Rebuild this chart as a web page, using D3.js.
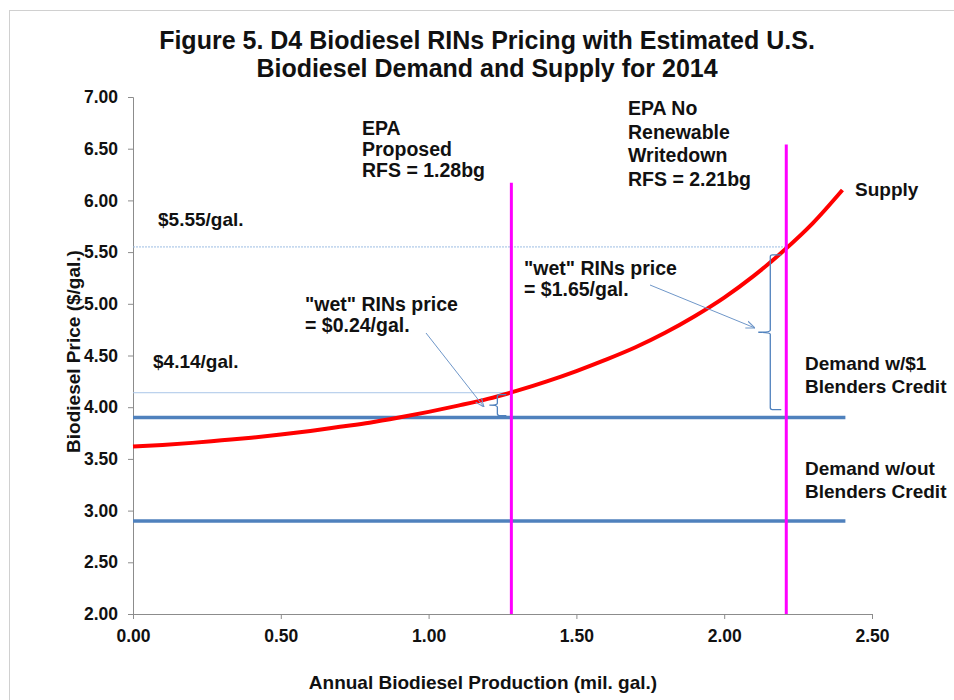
<!DOCTYPE html>
<html>
<head>
<meta charset="utf-8">
<script src="https://cdn.jsdelivr.net/npm/d3@7"></script>
<style>
  body { margin: 0; background: #fff; }
  svg text { font-family: "Liberation Sans", Arial, sans-serif; font-weight: bold; fill: #111; }
</style>
</head>
<body>
<div class="chartWrapper"></div>
<script>
const width = 954, height = 700;

// supply curve
const supplyQty   = [0, 0.1, 0.2, 0.3, 0.4, 0.5, 0.6, 0.7, 0.8, 0.9, 1.0, 1.1, 1.2, 1.3, 1.4, 1.5, 1.6, 1.7, 1.8, 1.9, 2.0, 2.1, 2.2, 2.3, 2.4];
const supplyPrice = [3.62, 3.635, 3.655, 3.68, 3.705, 3.735, 3.77, 3.81, 3.85, 3.90, 3.955, 4.015, 4.08, 4.16, 4.25, 4.35, 4.46, 4.58, 4.72, 4.88, 5.06, 5.27, 5.51, 5.78, 6.10];

const demandPrices = [3.90, 2.90];   // w/$1 credit, w/out credit
const demandEnd = 2.41;
const rfsLevels = [1.28, 2.21];
const rfsTops = [6.17, 6.54];
const rinPrices = [4.14, 5.55];

const xTicks = [0, 0.5, 1.0, 1.5, 2.0, 2.5];
const yTicks = [2, 2.5, 3, 3.5, 4, 4.5, 5, 5.5, 6, 6.5, 7];

const svg = d3.select(".chartWrapper").append("svg")
  .attr("width", width)
  .attr("height", height);

// outer chart border
svg.append("rect")
  .attr("x", 9.5).attr("y", 10.5)
  .attr("width", 960).attr("height", 720)
  .attr("fill", "none")
  .attr("stroke", "#d0d0d0");

const x = d3.scaleLinear().domain([0, 2.5]).range([133, 872]);
const y = d3.scaleLinear().domain([2, 7]).range([614, 97]);

// title
svg.append("text").attr("x", 487).attr("y", 49).attr("text-anchor", "middle")
  .style("font-size", "25px").text("Figure 5. D4 Biodiesel RINs Pricing with Estimated U.S.");
svg.append("text").attr("x", 487).attr("y", 77).attr("text-anchor", "middle")
  .style("font-size", "25px").text("Biodiesel Demand and Supply for 2014");

// axes
const xAxis = d3.axisBottom(x).tickValues(xTicks).tickFormat(d3.format(".2f")).tickSizeOuter(0).tickSize(5).tickPadding(5);
const yAxis = d3.axisLeft(y).tickValues(yTicks).tickFormat(d3.format(".2f")).tickSizeOuter(0).tickSize(5).tickPadding(10);

const gx = svg.append("g").attr("transform", `translate(0,${y(2)})`).call(xAxis);
const gy = svg.append("g").attr("transform", `translate(${x(0)},0)`).call(yAxis);
[gx, gy].forEach(g => {
  g.selectAll("path, line").attr("stroke", "#8c8c8c");
  g.selectAll("text").style("font-size", "17.5px").style("font-family", "'Liberation Sans', Arial, sans-serif").attr("fill", "#111");
});
gx.selectAll("text").attr("dy", "1em");

svg.append("text")
  .attr("transform", `translate(80,${(y(2) + y(7)) / 2 - 4}) rotate(-90)`)
  .attr("text-anchor", "middle")
  .style("font-size", "19px")
  .text("Biodiesel Price ($/gal.)");
svg.append("text").attr("x", 483).attr("y", 689).attr("text-anchor", "middle")
  .style("font-size", "19px").text("Annual Biodiesel Production (mil. gal.)");

// reference lines at RIN-implied prices
svg.append("line")
  .attr("x1", x(0)).attr("x2", x(rfsLevels[1]))
  .attr("y1", y(rinPrices[1])).attr("y2", y(rinPrices[1]))
  .attr("stroke", "#9dbde3").attr("stroke-width", 1).attr("stroke-dasharray", "2,1");
svg.append("line")
  .attr("x1", x(0)).attr("x2", x(rfsLevels[0]))
  .attr("y1", y(rinPrices[0])).attr("y2", y(rinPrices[0]))
  .attr("stroke", "#a9c6e8").attr("stroke-width", 1);

// demand lines
demandPrices.forEach(p => {
  svg.append("line")
    .attr("x1", x(0)).attr("x2", x(demandEnd))
    .attr("y1", y(p)).attr("y2", y(p))
    .attr("stroke", "#4f81bd").attr("stroke-width", 3.5);
});

// supply curve
const supplyData = supplyQty.map((q, i) => [q, supplyPrice[i]]);
const line = d3.line().x(d => x(d[0])).y(d => y(d[1])).curve(d3.curveMonotoneX);
svg.append("path").datum(supplyData)
  .attr("d", line)
  .attr("fill", "none")
  .attr("stroke", "#ff0000")
  .attr("stroke-width", 4);

// RFS verticals
rfsLevels.forEach((q, i) => {
  svg.append("line")
    .attr("x1", x(q)).attr("x2", x(q))
    .attr("y1", y(rfsTops[i])).attr("y2", y(2))
    .attr("stroke", "#ff00ff").attr("stroke-width", 3);
});

// braces showing RIN price gap
function brace(xPos, yTop, yBot, prong, hook) {
  const yMid = (yTop + yBot) / 2;
  const p = d3.path();
  p.moveTo(xPos + hook, yTop);
  p.lineTo(xPos + 2, yTop);
  p.quadraticCurveTo(xPos, yTop, xPos, yTop + 2);
  p.lineTo(xPos, yMid - 2);
  p.quadraticCurveTo(xPos, yMid, xPos - prong, yMid);
  p.quadraticCurveTo(xPos, yMid, xPos, yMid + 2);
  p.lineTo(xPos, yBot - 2);
  p.quadraticCurveTo(xPos, yBot, xPos + 2, yBot);
  p.lineTo(xPos + hook, yBot);
  svg.append("path").attr("d", p.toString())
    .attr("fill", "none").attr("stroke", "#4f81bd").attr("stroke-width", 1.3);
}
brace(x(rfsLevels[0]) - 14, y(rinPrices[0]) + 2, y(demandPrices[0]) - 2, 8, 9);
brace(x(rfsLevels[1]) - 16, y(rinPrices[1]) + 8, y(demandPrices[0]) - 8, 12, 11);

// annotation arrows
const defs = svg.append("defs");
defs.append("marker").attr("id", "arrow")
  .attr("viewBox", "0 0 10 10").attr("refX", 10).attr("refY", 5)
  .attr("markerWidth", 9).attr("markerHeight", 9).attr("orient", "auto")
  .append("path").attr("d", "M0,1 L10,5 L0,9")
  .attr("fill", "none").attr("stroke", "#6f97c9").attr("stroke-width", 1.2);

svg.append("line").attr("x1", 426).attr("y1", 333).attr("x2", 484).attr("y2", 407)
  .attr("stroke", "#6f97c9").attr("stroke-width", 1).attr("marker-end", "url(#arrow)");
svg.append("line").attr("x1", 650).attr("y1", 285).attr("x2", 755).attr("y2", 328)
  .attr("stroke", "#6f97c9").attr("stroke-width", 1).attr("marker-end", "url(#arrow)");

// text annotations
function textBlock(lines, x0, y0, lh, size) {
  const t = svg.append("text").attr("x", x0).attr("y", y0).style("font-size", size + "px");
  lines.forEach((s, i) => {
    t.append("tspan").attr("x", x0).attr("y", y0 + i * lh).text(s);
  });
}
textBlock(["$5.55/gal."], 158, 226, 20, 19);
textBlock(["$4.14/gal."], 153, 368, 20, 19);
textBlock(["EPA", "Proposed", "RFS = 1.28bg"], 362, 135, 21, 19.5);
textBlock(["EPA No", "Renewable", "Writedown", "RFS = 2.21bg"], 628, 115, 23.5, 19.5);
textBlock(["Supply"], 855, 196, 20, 19);
textBlock(["\"wet\" RINs price", "= $0.24/gal."], 305, 311, 21, 19.5);
textBlock(["\"wet\" RINs price", "= $1.65/gal."], 524, 275, 21, 19.5);
textBlock(["Demand w/$1", "Blenders Credit"], 805, 370, 23, 19);
textBlock(["Demand w/out", "Blenders Credit"], 805, 475, 23, 19);
</script>
</body>
</html>
